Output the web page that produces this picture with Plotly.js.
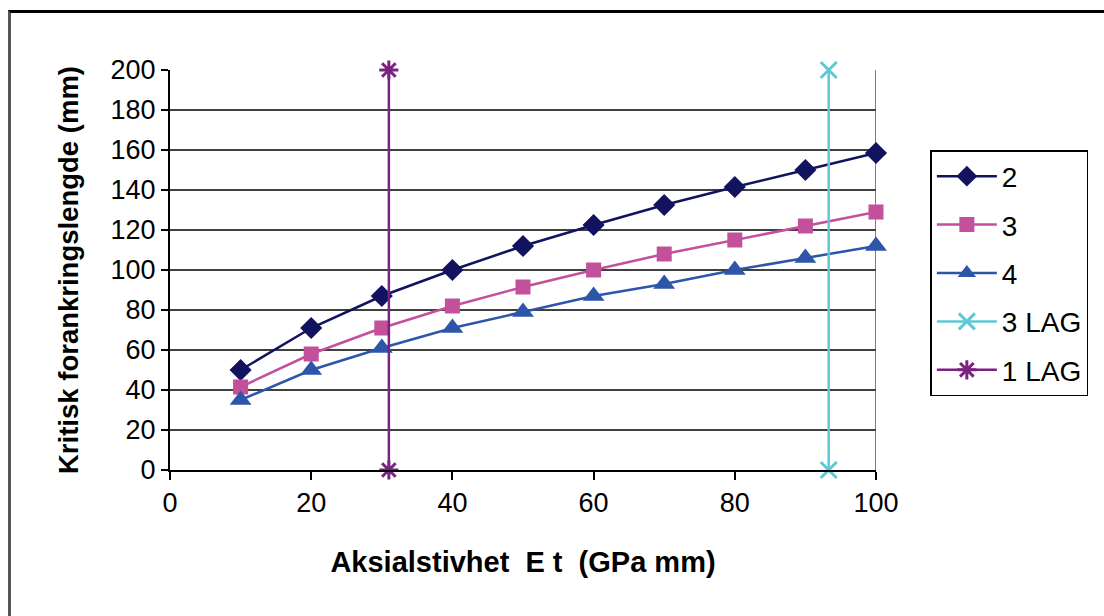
<!DOCTYPE html>
<html>
<head>
<meta charset="utf-8">
<script src="https://cdn.plot.ly/plotly-3.0.1.min.js"></script>
<style>
html,body{margin:0;padding:0;background:#fff;}
#wrap{position:relative;width:1104px;height:616px;overflow:hidden;}
#chart{position:absolute;left:0;top:0;width:1104px;height:616px;}
#frame{position:absolute;left:8px;top:10px;width:1200px;height:700px;border-top:3px solid #000;border-left:3px solid #555;pointer-events:none;}
</style>
</head>
<body>
<div id="wrap"><div id="chart"></div><div id="frame"></div></div>
<script>
const xValues = [10, 20, 30, 40, 50, 60, 70, 80, 90, 100];
const series2 = [50, 71, 87, 100, 112, 122.5, 132.5, 141.5, 150, 158.5];
const series3 = [41.5, 58, 71, 82, 91.5, 100, 108, 115, 122, 129];
const series4 = [35, 50, 61, 71, 79, 87, 93, 100, 106, 112];
const lag3X = [93.3, 93.3];
const lag1X = [31, 31];
const lagY = [0, 200];
const xTicks = [0, 20, 40, 60, 80, 100];
const yTicks = [0, 20, 40, 60, 80, 100, 120, 140, 160, 180, 200];

const font = 'Liberation Sans, Arial, sans-serif';
const fs = 27;

const traces = [
  {x: xValues, y: series2, name: '2', mode: 'lines+markers', legendgroup: 'a', cliponaxis: false,
   line: {color: '#12135e', width: 2.5}, marker: {symbol: 'diamond', size: 17, color: '#12135e'}},
  {x: xValues, y: series3, name: '3', mode: 'lines+markers', legendgroup: 'b', cliponaxis: false,
   line: {color: '#c2509b', width: 2.5}, marker: {symbol: 'square', size: 15, color: '#c2509b'}},
  {x: xValues, y: series4, name: '4', mode: 'lines+markers', legendgroup: 'c', cliponaxis: false,
   line: {color: '#2d55a8', width: 2.5}, marker: {symbol: 'triangle-up', size: 19, color: '#2d55a8'}},
  {x: lag3X, y: lagY, name: '3 LAG', mode: 'lines+markers', legendgroup: 'd', cliponaxis: false,
   line: {color: '#5ec8d8', width: 2.5}, marker: {symbol: 'x-thin-open', size: 16, color: '#5ec8d8', line: {color: '#5ec8d8', width: 3}}},
  {x: lag1X, y: lagY, name: '1 LAG', mode: 'lines+markers', legendgroup: 'e', cliponaxis: false,
   line: {color: '#7a2282', width: 2.5}, marker: {symbol: 'asterisk-open', size: 16, color: '#7a2282', line: {color: '#7a2282', width: 3}}}
];

const layout = {
  width: 1104, height: 616,
  margin: {l: 170, r: 228, t: 70, b: 146},
  paper_bgcolor: '#fff', plot_bgcolor: '#fff',
  font: {family: font, size: fs, color: '#000'},
  showlegend: true,
  legend: {
    x: 1.077, xanchor: 'left', y: 0.8, yanchor: 'top',
    bordercolor: '#000', borderwidth: 1.5, bgcolor: '#fff',
    font: {family: font, size: 28, color: '#000'},
    traceorder: 'grouped', tracegroupgap: 9, itemwidth: 60
  },
  xaxis: {
    range: [0, 100], tickvals: xTicks, ticktext: xTicks.map(String),
    showgrid: false, zeroline: false,
    showline: true, linecolor: '#000', linewidth: 2,
    ticks: 'outside', ticklen: 8, tickwidth: 2, tickcolor: '#000',
    tickfont: {family: font, size: fs, color: '#000'},
    title: {text: '<b>Aksialstivhet \u00a0E t \u00a0(GPa mm)</b>', font: {family: font, size: 29, color: '#000'}, standoff: 34}
  },
  yaxis: {
    range: [0, 200], tickvals: yTicks, ticktext: yTicks.map(String),
    showgrid: true, gridcolor: '#404040', gridwidth: 2, zeroline: false,
    showline: true, linecolor: '#000', linewidth: 2,
    ticks: 'outside', ticklen: 7, tickwidth: 2, tickcolor: '#000',
    tickfont: {family: font, size: fs, color: '#000'},
    title: {text: '<b>Kritisk forankringslengde (mm)</b>', font: {family: font, size: 27.5, color: '#000'}, standoff: 24}
  },
  shapes: [
    {type: 'line', xref: 'x', yref: 'y', x0: 100, x1: 100, y0: 0, y1: 200, line: {color: '#808080', width: 2}, layer: 'below'}
  ]
};

Plotly.newPlot('chart', traces, layout, {displayModeBar: false, staticPlot: true});
</script>
</body>
</html>
